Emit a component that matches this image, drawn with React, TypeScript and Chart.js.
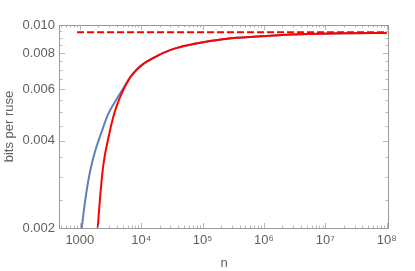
import React, { useEffect, useRef } from "react";
import { Chart, registerables } from "chart.js";

Chart.register(...registerables);

// x tick values (log scale) and labels
const xTickValues = [1e3, 1e4, 1e5, 1e6, 1e7, 1e8];
const xTickLabels = ["1000", "10⁴", "10⁵", "10⁶", "10⁷", "10⁸"];
const yTickValues = [0.002, 0.004, 0.006, 0.008, 0.01];
const yTickLabels = ["0.002", "0.004", "0.006", "0.008", "0.010"];

// red series
const redN = [1958, 2134, 2416, 2915, 3478, 4042, 5120, 6585, 8469, 10850, 15790, 22980, 38020, 70900, 132700, 248500, 766000, 3.89e6, 2.54e7, 1e8];
const redV = [0.002, 0.00254, 0.0033, 0.00408, 0.00479, 0.00531, 0.00598, 0.00658, 0.00702, 0.00735, 0.0077, 0.00802, 0.00834, 0.0086, 0.00881, 0.00897, 0.00912, 0.00929, 0.00937, 0.00939];

// blue series
const blueN = [1074, 1216, 1466, 1769, 2276, 2915, 4243, 5458, 6585, 8469, 10850, 15790, 22980, 38020, 70900, 132700, 248500, 766000, 3.89e6, 2.54e7, 1e8];
const blueV = [0.002, 0.00247, 0.00313, 0.00367, 0.0043, 0.00495, 0.00568, 0.0062, 0.00662, 0.00703, 0.00735, 0.0077, 0.00802, 0.00834, 0.0086, 0.00881, 0.00897, 0.00912, 0.00929, 0.00937, 0.00939];

// dashed asymptote
const dashN = [900, 1e8];
const dashV = [0.00944, 0.00944];

const X_MIN = 475;
const X_MAX = 1.05e8;
const Y_MIN = 0.002;
const Y_MAX = 0.01;

const toPts = (xs: number[], ys: number[]) => xs.map((x, i) => ({ x, y: ys[i] }));

const framePlugin = {
  id: "frameTicks",
  afterDraw(chart: any) {
    const { ctx, chartArea } = chart;
    const { left, right, top, bottom } = chartArea;
    const xs = chart.scales.x;
    const ys = chart.scales.y;
    ctx.save();
    ctx.lineWidth = 1;
    ctx.strokeStyle = "#b8b8b8";
    ctx.beginPath();
    for (let d = 100; d <= 1e8; d *= 10) {
      for (let m = 1; m <= 9; m++) {
        const v = m * d;
        if (v < X_MIN || v > X_MAX) continue;
        const px = Math.round(xs.getPixelForValue(v)) + 0.5;
        const len = m === 1 ? 5 : 2.5;
        ctx.moveTo(px, bottom);
        ctx.lineTo(px, bottom - len);
        ctx.moveTo(px, top);
        ctx.lineTo(px, top + len);
      }
    }
    for (let i = 0; i <= 16; i++) {
      const v = 0.002 + i * 0.0005;
      const py = Math.round(ys.getPixelForValue(v)) + 0.5;
      const len = i % 4 === 0 ? 5 : 2.5;
      ctx.moveTo(left, py);
      ctx.lineTo(left + len, py);
      ctx.moveTo(right, py);
      ctx.lineTo(right - len, py);
    }
    ctx.stroke();
    ctx.strokeStyle = "#9a9a9a";
    ctx.strokeRect(Math.round(left) - 0.5, Math.round(top) + 0.5, Math.round(right - left) + 1, Math.round(bottom - top));
    ctx.restore();
  },
};

export default function App() {
  const ref = useRef<HTMLCanvasElement>(null);
  useEffect(() => {
    if (!ref.current) return;
    const font = { family: "'Liberation Sans', Arial, sans-serif", size: 13 };
    const chart = new Chart(ref.current, {
      type: "line",
      data: {
        datasets: [
          {
            data: toPts(dashN, dashV),
            borderColor: "#FF0000",
            borderWidth: 2,
            borderDash: [7, 3],
            pointRadius: 0,
          },
          {
            data: toPts(redN, redV),
            borderColor: "#FF0000",
            borderWidth: 2,
            pointRadius: 0,
            cubicInterpolationMode: "monotone",
          },
          {
            data: toPts(blueN, blueV),
            borderColor: "#5E81B5",
            borderWidth: 2,
            pointRadius: 0,
            cubicInterpolationMode: "monotone",
          },
        ],
      },
      plugins: [framePlugin],
      options: {
        animation: false,
        responsive: false,
        maintainAspectRatio: false,
        layout: { padding: { top: 25, right: 27, bottom: 0, left: 0 } },
        plugins: { legend: { display: false }, tooltip: { enabled: false } },
        scales: {
          x: {
            type: "logarithmic",
            min: X_MIN,
            max: X_MAX,
            grid: { display: false, drawTicks: false },
            border: { display: false },
            afterBuildTicks: (scale: any) => {
              scale.ticks = xTickValues.map((v) => ({ value: v }));
            },
            afterFit: (scale: any) => {
              scale.height = 43;
            },
            ticks: {
              autoSkip: false,
              maxRotation: 0,
              padding: 5,
              color: "#606060",
              font,
              callback: (v: any) => {
                const i = xTickValues.indexOf(Number(v));
                return i >= 0 ? xTickLabels[i] : "";
              },
            },
            title: {
              display: true,
              text: "n",
              color: "#606060",
              font,
              padding: { top: 0, bottom: 0 },
            },
          },
          y: {
            type: "logarithmic",
            min: Y_MIN,
            max: Y_MAX,
            grid: { display: false, drawTicks: false },
            border: { display: false },
            afterBuildTicks: (scale: any) => {
              scale.ticks = yTickValues.map((v) => ({ value: v }));
            },
            afterFit: (scale: any) => {
              scale.width = 60;
            },
            ticks: {
              autoSkip: false,
              padding: 5,
              color: "#606060",
              font,
              callback: (v: any) => {
                const i = yTickValues.findIndex((t) => Math.abs(t - Number(v)) < 1e-9);
                return i >= 0 ? yTickLabels[i] : "";
              },
            },
            title: {
              display: true,
              text: "bits per ruse",
              color: "#606060",
              font,
              padding: { top: 2, bottom: 0 },
            },
          },
        },
      },
    } as any);
    return () => chart.destroy();
  }, []);
  return (
    <div style={{ position: "absolute", left: 0, top: 0, width: 415, height: 271 }}>
      <canvas ref={ref} width={415} height={271} style={{ width: 415, height: 271 }} />
    </div>
  );
}
